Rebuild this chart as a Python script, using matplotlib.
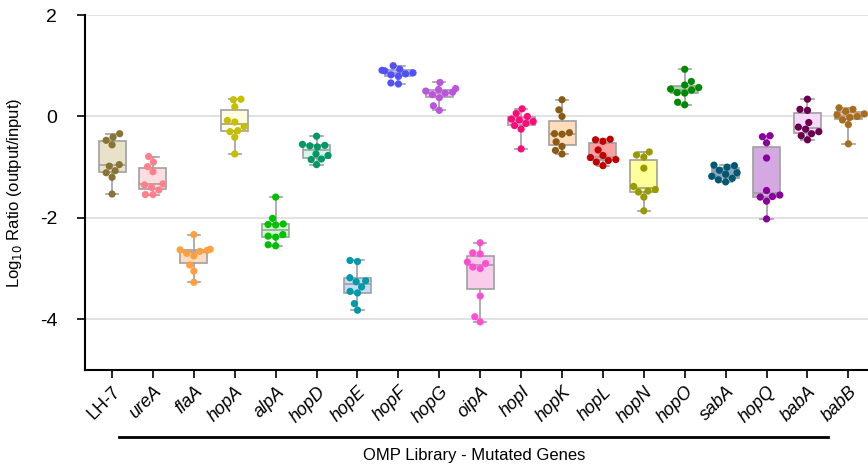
import numpy as np
import pandas as pd
import matplotlib
matplotlib.use('Agg')
import matplotlib.pyplot as plt
import seaborn as sns

genes = ['LH-7', 'ureA', 'flaA', 'hopA', 'alpA', 'hopD', 'hopE', 'hopF', 'hopG', 'oipA',
         'hopI', 'hopK', 'hopL', 'hopN', 'hopO', 'sabA', 'hopQ', 'babA', 'babB']

# log10(output/input) per mutant, 10 replicates each
lh7 = [-0.34, -0.41, -0.47, -0.56, -0.95, -0.98, -1.07, -1.11, -1.20, -1.53]
ureA = [-0.79, -0.90, -0.99, -1.09, -1.33, -1.35, -1.40, -1.45, -1.54, -1.54]
flaA = [-2.33, -2.62, -2.63, -2.64, -2.66, -2.70, -2.75, -2.93, -3.05, -3.27]
hopA = [0.34, 0.33, 0.19, -0.08, -0.11, -0.20, -0.28, -0.30, -0.41, -0.74]
alpA = [-1.59, -2.01, -2.12, -2.13, -2.14, -2.33, -2.36, -2.38, -2.53, -2.55]
hopD = [-0.39, -0.55, -0.57, -0.58, -0.60, -0.74, -0.77, -0.84, -0.85, -0.95]
hopE = [-2.84, -2.86, -3.18, -3.24, -3.26, -3.36, -3.45, -3.48, -3.69, -3.82]
hopF = [1.00, 0.93, 0.91, 0.90, 0.86, 0.84, 0.82, 0.79, 0.66, 0.64]
hopG = [0.67, 0.55, 0.53, 0.50, 0.48, 0.46, 0.43, 0.37, 0.21, 0.12]
oipA = [-2.49, -2.69, -2.71, -2.87, -2.90, -2.97, -3.00, -3.54, -3.95, -4.05]
hopI = [0.15, 0.06, 0.00, -0.05, -0.07, -0.10, -0.14, -0.18, -0.25, -0.64]
hopK = [0.33, 0.13, 0.00, -0.32, -0.34, -0.35, -0.50, -0.59, -0.67, -0.74]
hopL = [-0.45, -0.46, -0.49, -0.66, -0.77, -0.81, -0.85, -0.87, -0.90, -0.97]
hopN = [-0.70, -0.76, -0.80, -1.02, -1.38, -1.44, -1.47, -1.49, -1.59, -1.86]
hopO = [0.93, 0.69, 0.62, 0.57, 0.54, 0.52, 0.47, 0.46, 0.28, 0.23]
sabA = [-0.96, -0.97, -1.00, -1.06, -1.11, -1.14, -1.18, -1.22, -1.25, -1.29]
hopQ = [-0.38, -0.40, -0.52, -0.82, -1.46, -1.55, -1.58, -1.59, -1.67, -2.02]
babA = [0.34, 0.14, 0.12, -0.12, -0.21, -0.25, -0.30, -0.34, -0.38, -0.46]
babB = [0.17, 0.14, 0.10, 0.05, 0.03, 0.00, -0.02, -0.07, -0.16, -0.54]

values = [lh7, ureA, flaA, hopA, alpA, hopD, hopE, hopF, hopG, oipA,
          hopI, hopK, hopL, hopN, hopO, sabA, hopQ, babA, babB]

dot_colors = ['#8a7433', '#ff808c', '#ffa040', '#c8be00', '#00c000', '#009966', '#0099aa',
              '#5050ff', '#bb55dd', '#ff4fd0', '#ff0a78', '#8b5a14', '#c00000', '#999900',
              '#008800', '#005870', '#880099', '#6b0050', '#a86c1e']
box_colors = ['#e8e2c8', '#ffdde0', '#ffdcc0', '#fffde0', '#ccffcc', '#d4f8e8', '#c4dcf4',
              '#bdbdf5', '#ebcbf5', '#f9ccec', '#ffc6de', '#ffddbb', '#ffa0a0', '#ffff99',
              '#a8dca8', '#7fa6cc', '#d4a8e0', '#f6d8f8', '#f9be88']

plt.rcParams['font.family'] = ['Liberation Sans', 'DejaVu Sans']
plt.rcParams['axes.unicode_minus'] = False

df = pd.DataFrame({'gene': np.repeat(genes, [len(v) for v in values]),
                   'ratio': np.concatenate(values)})

fig = plt.figure(figsize=(8.68, 4.69), dpi=100)
ax = fig.add_axes([0.098, 0.211, 0.902, 0.757])

pos = np.arange(len(genes))
bp = ax.boxplot(values, positions=pos, widths=0.66, whis=(0, 100), patch_artist=True,
                showfliers=False, capwidths=0.3,
                boxprops=dict(edgecolor='#a0a0a0', linewidth=1.2),
                medianprops=dict(color='#a0a0a0', linewidth=1.2),
                whiskerprops=dict(color='#a0a0a0', linewidth=1.2),
                capprops=dict(color='#a0a0a0', linewidth=1.2), zorder=2)
for patch, c in zip(bp['boxes'], box_colors):
    patch.set_facecolor(c)

sns.swarmplot(data=df, x='gene', y='ratio', hue='gene', order=genes,
              palette=dict(zip(genes, dot_colors)), size=5.2, legend=False,
              ax=ax, zorder=3)

ax.set_xlim(-0.66, 18.48)
ax.set_ylim(-5, 2)
ax.set_yticks([2, 0, -2, -4])
ax.set_yticklabels(['2', '0', '-2', '-4'], fontsize=14)
ax.set_xticks(pos)
ax.set_xticklabels(genes, rotation=45, ha='right', rotation_mode='anchor', fontsize=13)
for lab in ax.get_xticklabels()[1:]:
    lab.set_style('italic')

ax.yaxis.grid(True, color='#dddddd', linewidth=1.2)
ax.set_axisbelow(True)
for s in ['top', 'right']:
    ax.spines[s].set_visible(False)
for s in ['left', 'bottom']:
    ax.spines[s].set_linewidth(1.5)
ax.tick_params(axis='both', direction='out', length=6, width=1.2)
ax.tick_params(axis='y', pad=14)
ax.set_xlabel('')
ax.set_ylabel('Log$_{10}$ Ratio (output/input)', fontsize=12)
ax.yaxis.set_label_coords(-0.078, 0.5)

# bracket under the mutant genes
trans = matplotlib.transforms.blended_transform_factory(ax.transData, ax.transAxes)
ax.plot([0.17, 17.5], [-0.189, -0.189], color='black', linewidth=2,
        transform=trans, clip_on=False)
ax.text(8.85, -0.24, 'OMP Library - Mutated Genes', transform=trans,
        ha='center', va='center', fontsize=12)

fig.savefig('out.png', dpi=100)
